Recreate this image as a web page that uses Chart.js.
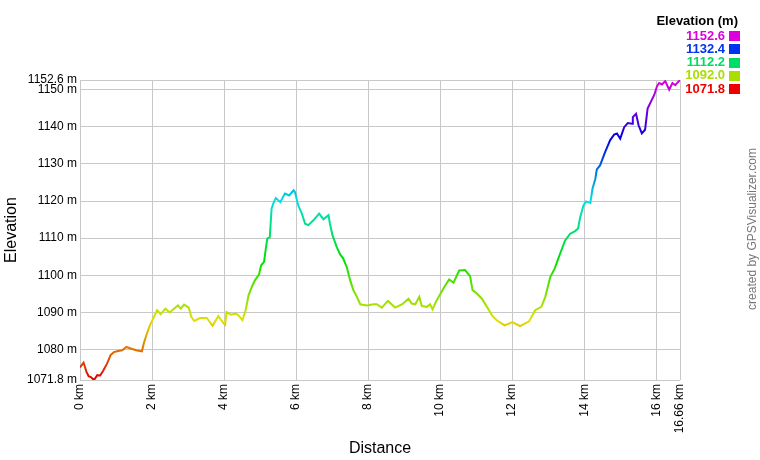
<!DOCTYPE html>
<html>
<head>
<meta charset="utf-8">
<title>Elevation profile</title>
<script src="https://cdn.jsdelivr.net/npm/chart.js@4/dist/chart.umd.min.js"></script>
<style>
  html, body { margin: 0; padding: 0; background: #fff; }
  #wrap { width: 760px; height: 460px; }
</style>
</head>
<body>
<div id="wrap"><canvas id="profileCanvas" width="760" height="460"></canvas></div>
<script>
// Track points
var distanceKm = [
    0, 0.1, 0.18, 0.24, 0.3, 0.39, 0.48, 0.56, 0.64, 0.75,
    0.85, 0.94, 1.06, 1.17, 1.29, 1.43, 1.56, 1.72, 1.77, 1.84,
    1.94, 2.03, 2.14, 2.24, 2.37, 2.49, 2.6, 2.72, 2.8, 2.89,
    3.02, 3.09, 3.17, 3.33, 3.52, 3.68, 3.84, 3.96, 4.03, 4.07,
    4.19, 4.33, 4.4, 4.51, 4.6, 4.68, 4.77, 4.86, 4.97, 5.03,
    5.11, 5.16, 5.2, 5.27, 5.32, 5.39, 5.44, 5.56, 5.69, 5.81,
    5.93, 5.97, 6.06, 6.16, 6.25, 6.34, 6.48, 6.64, 6.76, 6.9,
    6.94, 7.01, 7.13, 7.22, 7.31, 7.41, 7.5, 7.59, 7.69, 7.78,
    7.96, 8.15, 8.24, 8.38, 8.55, 8.75, 8.95, 9.12, 9.21, 9.31,
    9.42, 9.49, 9.63, 9.72, 9.79, 9.88, 10.0, 10.12, 10.25, 10.37,
    10.53, 10.69, 10.83, 10.9, 11.02, 11.16, 11.3, 11.44, 11.57, 11.79,
    12.01, 12.22, 12.47, 12.64, 12.81, 12.92, 13.06, 13.18, 13.33, 13.47,
    13.61, 13.75, 13.83, 13.89, 13.98, 14.05, 14.17, 14.23, 14.31, 14.35,
    14.44, 14.58, 14.72, 14.83, 14.91, 15.0, 15.11, 15.21, 15.33, 15.35,
    15.44, 15.51, 15.6, 15.69, 15.76, 15.85, 15.95, 16.02, 16.08, 16.16,
    16.25, 16.36, 16.45, 16.53, 16.6, 16.66
];
var elevationM = [
    1075.2, 1076.5, 1074.0, 1072.8, 1072.6, 1071.8, 1073.1, 1073.0, 1074.2, 1076.2,
    1078.5, 1079.3, 1079.6, 1079.8, 1080.7, 1080.2, 1079.8, 1079.5, 1081.6, 1083.8,
    1086.5, 1088.3, 1090.6, 1089.5, 1091.0, 1090.0, 1090.9, 1091.9, 1091.0, 1092.1,
    1091.3, 1088.8, 1087.7, 1088.5, 1088.5, 1086.4, 1089.0, 1087.4, 1086.7, 1090.1,
    1089.4, 1089.7, 1089.2, 1087.9, 1090.6, 1094.6, 1096.9, 1098.7, 1100.2, 1102.7,
    1103.6, 1107.2, 1109.9, 1110.3, 1118.0, 1119.9, 1120.8, 1119.7, 1122.0, 1121.5,
    1122.9, 1122.4, 1118.8, 1116.6, 1113.9, 1113.5, 1114.8, 1116.6, 1115.1, 1116.2,
    1113.9, 1110.8, 1107.6, 1105.7, 1104.5, 1102.1, 1098.7, 1096.0, 1094.2, 1092.2,
    1091.9, 1092.2, 1092.2, 1091.3, 1093.1, 1091.3, 1092.2, 1093.7, 1092.4, 1092.2,
    1094.2, 1091.7, 1091.5, 1092.2, 1090.8, 1092.8, 1094.9, 1096.9, 1098.9, 1098.0,
    1101.3, 1101.4, 1099.8, 1096.0, 1095.1, 1093.7, 1091.5, 1089.2, 1087.9, 1086.5,
    1087.4, 1086.3, 1087.6, 1090.6, 1091.5, 1094.2, 1099.6, 1101.8, 1105.8, 1109.4,
    1111.2, 1111.9, 1112.6, 1115.7, 1118.8, 1119.9, 1119.5, 1123.3, 1126.0, 1128.5,
    1129.6, 1133.2, 1136.4, 1137.9, 1138.2, 1136.8, 1139.9, 1141.0, 1140.8, 1142.6,
    1143.5, 1140.4, 1138.2, 1139.2, 1144.9, 1146.7, 1148.7, 1150.9, 1151.8, 1151.4,
    1152.3, 1150.0, 1151.8, 1151.2, 1152.0, 1152.6
];

// Axis ticks
var xTicks = [0, 2, 4, 6, 8, 10, 12, 14, 16, 16.66];
var yTicks = [1071.8, 1080, 1090, 1100, 1110, 1120, 1130, 1140, 1150, 1152.6];

// Colour legend in the top right corner
var legendTitle = "Elevation (m)";
var legendValues = ["1152.6", "1132.4", "1112.2", "1092.0", "1071.8"];
var legendColors = ["#dd00dd", "#0033ee", "#00dd66", "#aadd00", "#ee0000"];

var FONT = "'Liberation Sans', Arial, sans-serif";

var points = [];
for (var i = 0; i < distanceKm.length; i++) {
    points.push({ x: distanceKm[i], y: elevationM[i] });
}

// Function to build the rainbow gradient, red at the lowest point and magenta at the highest
function elevationGradient(context) {
    var chart = context.chart;
    if (!chart.chartArea) return "#ee0000";
    var yScale = chart.scales.y;
    var bottom = yScale.getPixelForValue(yTicks[0]);
    var top = yScale.getPixelForValue(yTicks[yTicks.length - 1]);
    var gradient = chart.ctx.createLinearGradient(0, bottom, 0, top);
    for (var s = 0; s <= 10; s++) {
        gradient.addColorStop(s / 10, "hsl(" + (s * 30) + ",100%,44%)");
    }
    return gradient;
}

// Plugin for the colour legend and the vertical credit text
var sideTextPlugin = {
    id: "sideText",
    afterDraw: function(chart) {
        var ctx = chart.ctx;
        ctx.save();
        ctx.textAlign = "right";
        ctx.textBaseline = "middle";
        ctx.fillStyle = "#000";
        ctx.font = "bold 13px " + FONT;
        ctx.fillText(legendTitle, 738, 21);
        for (var i = 0; i < legendValues.length; i++) {
            var y = 36 + i * 13.25;
            ctx.fillStyle = legendColors[i];
            ctx.fillText(legendValues[i], 725, y);
            ctx.fillRect(729, Math.round(y) - 5, 11, 10);
        }
        ctx.translate(753, 229);
        ctx.rotate(-Math.PI / 2);
        ctx.textAlign = "center";
        ctx.fillStyle = "#777";
        ctx.font = "12px " + FONT;
        ctx.fillText("created by GPSVisualizer.com", 0, 0);
        ctx.restore();
    }
};

new Chart(document.getElementById("profileCanvas"), {
    type: "scatter",
    data: {
        datasets: [{
            data: points,
            showLine: true,
            borderColor: elevationGradient,
            borderWidth: 2,
            pointRadius: 0,
            tension: 0,
            fill: false
        }]
    },
    options: {
        responsive: false,
        animation: false,
        layout: { padding: { top: 80, right: 80, left: 0, bottom: 0 } },
        plugins: {
            legend: { display: false },
            tooltip: { enabled: false }
        },
        scales: {
            x: {
                type: "linear",
                min: 0,
                max: 16.66,
                afterBuildTicks: function(scale) {
                    scale.ticks = xTicks.map(function(v) { return { value: v }; });
                },
                afterFit: function(scale) { scale.height = 80; },
                ticks: {
                    autoSkip: false,
                    minRotation: 90,
                    maxRotation: 90,
                    padding: 4,
                    color: "#000",
                    font: { family: FONT, size: 12 },
                    callback: function(value) { return value + " km"; }
                },
                grid: { color: "#c8c8c8", drawTicks: false },
                border: { display: false },
                title: {
                    display: true,
                    text: "Distance",
                    color: "#000",
                    font: { family: FONT, size: 16 },
                    padding: { top: 0, bottom: 2 }
                }
            },
            y: {
                type: "linear",
                min: 1071.8,
                max: 1152.6,
                afterBuildTicks: function(scale) {
                    scale.ticks = yTicks.map(function(v) { return { value: v }; });
                },
                afterFit: function(scale) { scale.width = 80; },
                ticks: {
                    autoSkip: false,
                    padding: 3,
                    color: "#000",
                    font: { family: FONT, size: 12 },
                    callback: function(value) { return value + " m"; }
                },
                grid: { color: "#c8c8c8", drawTicks: false },
                border: { display: false },
                title: {
                    display: true,
                    text: "Elevation",
                    color: "#000",
                    font: { family: FONT, size: 16 },
                    padding: { top: 2, bottom: 0 }
                }
            }
        }
    },
    plugins: [sideTextPlugin]
});
</script>
</body>
</html>
